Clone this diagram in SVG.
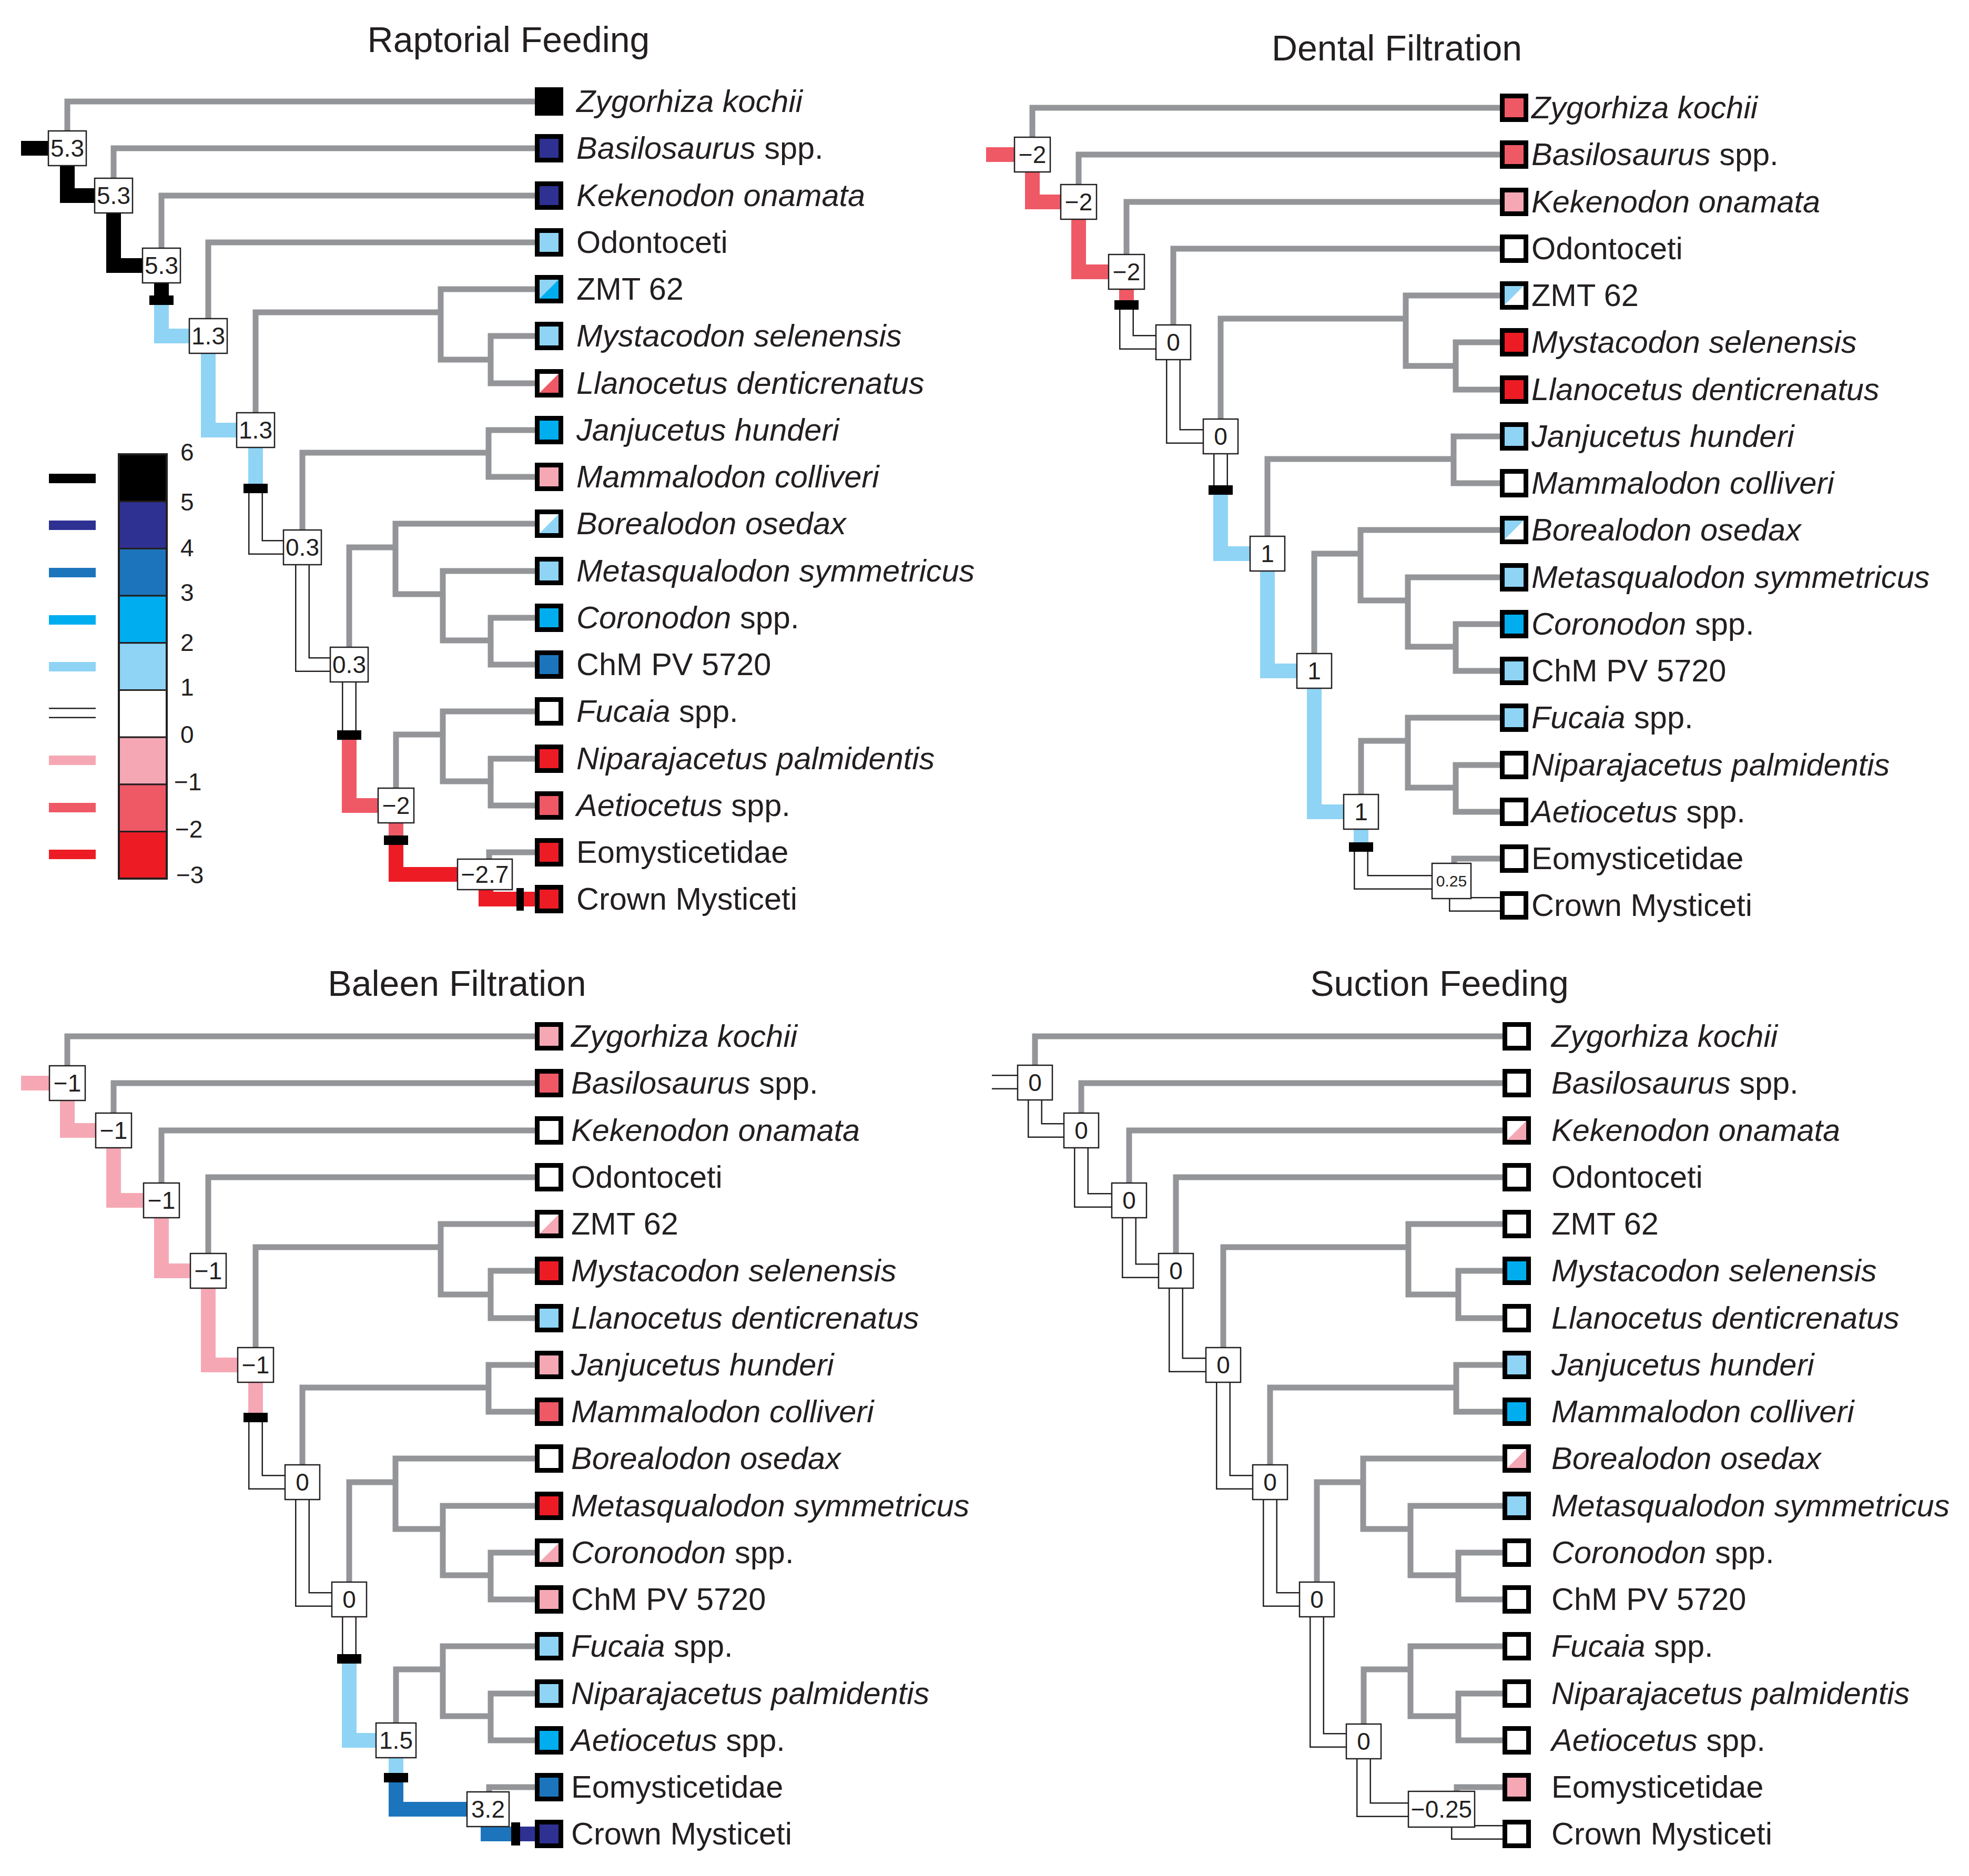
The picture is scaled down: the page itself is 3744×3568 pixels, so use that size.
<svg xmlns="http://www.w3.org/2000/svg" xmlns:xlink="http://www.w3.org/1999/xlink" width="3744" height="3568" viewBox="0 0 3744 3568">
<style>
.br{fill:none;stroke:#939598;stroke-width:11;stroke-linejoin:miter;stroke-linecap:butt}
.st{fill:none;stroke-width:28;stroke-linejoin:miter;stroke-linecap:butt}
.dbo{fill:none;stroke:#231f20;stroke-width:28;stroke-linejoin:miter}
.dbi{fill:none;stroke:#fff;stroke-width:23;stroke-linejoin:miter}
.bar{fill:#000}
.nb{fill:#fff;stroke:#231f20;stroke-width:2.5}
.nt{font-family:"Liberation Sans",Arial,sans-serif;font-size:46px;text-anchor:middle;fill:#231f20}
.tb{fill:none;stroke:#000;stroke-width:9}
.tl{font-family:"Liberation Sans",Arial,sans-serif;font-size:59.5px;fill:#231f20}
.it{font-style:italic}
.ti{font-family:"Liberation Sans",Arial,sans-serif;font-size:68px;text-anchor:middle;fill:#231f20}
.lg{font-family:"Liberation Sans",Arial,sans-serif;font-size:46px;fill:#231f20}
.cell{stroke:#231f20;stroke-width:3}
</style>
<defs>
<g id="grayTree">
<path class="br" d="M128 282V193H1017"/>
<path class="br" d="M216 372V282H1017"/>
<path class="br" d="M307 505V372H1017"/>
<path class="br" d="M396 639V461H1017"/>
<path class="br" d="M486 818V594H838"/>
<path class="br" d="M1017 550H838V684H933"/>
<path class="br" d="M1017 639H933V729H1017"/>
<path class="br" d="M575 1041V861H929"/>
<path class="br" d="M1017 818H929V907H1017"/>
<path class="br" d="M664 1264V1041H752"/>
<path class="br" d="M1017 996H752V1130H842"/>
<path class="br" d="M1017 1086H842V1218H933"/>
<path class="br" d="M1017 1175H933V1264H1017"/>
<path class="br" d="M753 1532V1397H842"/>
<path class="br" d="M1017 1353H842V1486H933"/>
<path class="br" d="M1017 1443H933V1532H1017"/>
<path class="br" d="M930 1663V1621H1017"/>
</g>
</defs>
<rect width="3744" height="3568" fill="#fff"/>

<!-- ============ PANEL 1: Raptorial Feeding ============ -->
<g id="raptorial">
<text class="ti" x="967" y="99">Raptorial Feeding</text>
<g id="rap-connectors">
<use xlink:href="#grayTree" href="#grayTree"/>
<path class="st" stroke="#000" d="M40 282H128V372H216V505H307V571"/>
<path class="st" stroke="#8fd4f5" d="M307 571V639H396V818H486V929"/>
<path class="dbo" d="M486 929V1041H575V1264H664V1398"/>
<path class="dbi" d="M486 929V1041H575V1264H664V1398"/>
<path class="st" stroke="#ef5966" d="M664 1398V1532H753V1598"/>
<path class="st" stroke="#ed1c24" d="M753 1598V1663H924"/>
<path class="st" stroke="#ed1c24" stroke-width="22" d="M924 1663V1710H1017"/>
<rect class="bar" x="284" y="562" width="46" height="18"/>
<rect class="bar" x="463" y="920" width="46" height="18"/>
<rect class="bar" x="641" y="1389" width="46" height="18"/>
<rect class="bar" x="730" y="1589" width="46" height="18"/>
<rect class="bar" x="982" y="1689" width="14" height="43"/>
</g>
<g id="rap-n1"><rect class="nb" x="92" y="249" width="72" height="66"/><text class="nt" x="128" y="298">5.3</text></g>
<g id="rap-n2"><rect class="nb" x="180" y="339" width="72" height="66"/><text class="nt" x="216" y="388">5.3</text></g>
<g id="rap-n3"><rect class="nb" x="271" y="472" width="72" height="66"/><text class="nt" x="307" y="521">5.3</text></g>
<g id="rap-n4"><rect class="nb" x="360" y="606" width="72" height="66"/><text class="nt" x="396" y="655">1.3</text></g>
<g id="rap-n5"><rect class="nb" x="450" y="785" width="72" height="66"/><text class="nt" x="486" y="834">1.3</text></g>
<g id="rap-n6"><rect class="nb" x="539" y="1008" width="72" height="66"/><text class="nt" x="575" y="1057">0.3</text></g>
<g id="rap-n7"><rect class="nb" x="628" y="1231" width="72" height="66"/><text class="nt" x="664" y="1280">0.3</text></g>
<g id="rap-n8"><rect class="nb" x="719" y="1499" width="68" height="66"/><text class="nt" x="753" y="1548">−2</text></g>
<g id="rap-n9"><rect class="nb" x="870" y="1634" width="104" height="58"/><text class="nt" x="922" y="1679">−2.7</text></g>

<g id="rap-t0"><rect x="1021.5" y="170.5" width="45" height="45" fill="#000"/><rect class="tb" x="1021.5" y="170.5" width="45" height="45"/><text class="tl" x="1096" y="213"><tspan class="it">Zygorhiza kochii</tspan></text></g>
<g id="rap-t1"><rect x="1021.5" y="259.5" width="45" height="45" fill="#2e3192"/><rect class="tb" x="1021.5" y="259.5" width="45" height="45"/><text class="tl" x="1096" y="302"><tspan class="it">Basilosaurus</tspan> spp.</text></g>
<g id="rap-t2"><rect x="1021.5" y="349.5" width="45" height="45" fill="#2e3192"/><rect class="tb" x="1021.5" y="349.5" width="45" height="45"/><text class="tl" x="1096" y="392"><tspan class="it">Kekenodon onamata</tspan></text></g>
<g id="rap-t3"><rect x="1021.5" y="438.5" width="45" height="45" fill="#8fd4f5"/><rect class="tb" x="1021.5" y="438.5" width="45" height="45"/><text class="tl" x="1096" y="481">Odontoceti</text></g>
<g id="rap-t4"><rect x="1021.5" y="527.5" width="45" height="45" fill="#8fd4f5"/><polygon points="1021.5,572.5 1066.5,527.5 1066.5,572.5" fill="#00aeef"/><rect class="tb" x="1021.5" y="527.5" width="45" height="45"/><text class="tl" x="1096" y="570">ZMT 62</text></g>
<g id="rap-t5"><rect x="1021.5" y="616.5" width="45" height="45" fill="#8fd4f5"/><rect class="tb" x="1021.5" y="616.5" width="45" height="45"/><text class="tl" x="1096" y="659"><tspan class="it">Mystacodon selenensis</tspan></text></g>
<g id="rap-t6"><rect x="1021.5" y="706.5" width="45" height="45" fill="#fff"/><polygon points="1021.5,751.5 1066.5,706.5 1066.5,751.5" fill="#ef5966"/><rect class="tb" x="1021.5" y="706.5" width="45" height="45"/><text class="tl" x="1096" y="749"><tspan class="it">Llanocetus denticrenatus</tspan></text></g>
<g id="rap-t7"><rect x="1021.5" y="795.5" width="45" height="45" fill="#00aeef"/><rect class="tb" x="1021.5" y="795.5" width="45" height="45"/><text class="tl" x="1096" y="838"><tspan class="it">Janjucetus hunderi</tspan></text></g>
<g id="rap-t8"><rect x="1021.5" y="884.5" width="45" height="45" fill="#f5a8b4"/><rect class="tb" x="1021.5" y="884.5" width="45" height="45"/><text class="tl" x="1096" y="927"><tspan class="it">Mammalodon colliveri</tspan></text></g>
<g id="rap-t9"><rect x="1021.5" y="973.5" width="45" height="45" fill="#fff"/><polygon points="1021.5,1018.5 1066.5,973.5 1066.5,1018.5" fill="#8fd4f5"/><rect class="tb" x="1021.5" y="973.5" width="45" height="45"/><text class="tl" x="1096" y="1016"><tspan class="it">Borealodon osedax</tspan></text></g>
<g id="rap-t10"><rect x="1021.5" y="1063.5" width="45" height="45" fill="#8fd4f5"/><rect class="tb" x="1021.5" y="1063.5" width="45" height="45"/><text class="tl" x="1096" y="1106"><tspan class="it">Metasqualodon symmetricus</tspan></text></g>
<g id="rap-t11"><rect x="1021.5" y="1152.5" width="45" height="45" fill="#00aeef"/><rect class="tb" x="1021.5" y="1152.5" width="45" height="45"/><text class="tl" x="1096" y="1195"><tspan class="it">Coronodon</tspan> spp.</text></g>
<g id="rap-t12"><rect x="1021.5" y="1241.5" width="45" height="45" fill="#1c75bc"/><rect class="tb" x="1021.5" y="1241.5" width="45" height="45"/><text class="tl" x="1096" y="1284">ChM PV 5720</text></g>
<g id="rap-t13"><rect x="1021.5" y="1330.5" width="45" height="45" fill="#fff"/><rect class="tb" x="1021.5" y="1330.5" width="45" height="45"/><text class="tl" x="1096" y="1373"><tspan class="it">Fucaia</tspan> spp.</text></g>
<g id="rap-t14"><rect x="1021.5" y="1420.5" width="45" height="45" fill="#ed1c24"/><rect class="tb" x="1021.5" y="1420.5" width="45" height="45"/><text class="tl" x="1096" y="1463"><tspan class="it">Niparajacetus palmidentis</tspan></text></g>
<g id="rap-t15"><rect x="1021.5" y="1509.5" width="45" height="45" fill="#ef5966"/><rect class="tb" x="1021.5" y="1509.5" width="45" height="45"/><text class="tl" x="1096" y="1552"><tspan class="it">Aetiocetus</tspan> spp.</text></g>
<g id="rap-t16"><rect x="1021.5" y="1598.5" width="45" height="45" fill="#ed1c24"/><rect class="tb" x="1021.5" y="1598.5" width="45" height="45"/><text class="tl" x="1096" y="1641">Eomysticetidae</text></g>
<g id="rap-t17"><rect x="1021.5" y="1687.5" width="45" height="45" fill="#ed1c24"/><rect class="tb" x="1021.5" y="1687.5" width="45" height="45"/><text class="tl" x="1096" y="1730">Crown Mysticeti</text></g>

<g id="legend">
<rect class="cell" x="226" y="864" width="91" height="89.7" fill="#000"/>
<rect class="cell" x="226" y="953.7" width="91" height="89.7" fill="#2e3192"/>
<rect class="cell" x="226" y="1043.4" width="91" height="89.7" fill="#1c75bc"/>
<rect class="cell" x="226" y="1133.1" width="91" height="89.7" fill="#00aeef"/>
<rect class="cell" x="226" y="1222.8" width="91" height="89.7" fill="#8fd4f5"/>
<rect class="cell" x="226" y="1312.5" width="91" height="89.7" fill="#fff"/>
<rect class="cell" x="226" y="1402.2" width="91" height="89.7" fill="#f5a8b4"/>
<rect class="cell" x="226" y="1491.9" width="91" height="89.7" fill="#ef5966"/>
<rect class="cell" x="226" y="1581.6" width="91" height="89.7" fill="#ed1c24"/>
<rect x="226" y="864" width="91" height="807" fill="none" stroke="#231f20" stroke-width="4"/>
<path d="M93 910H182" stroke="#000" stroke-width="18"/>
<path d="M93 999H182" stroke="#2e3192" stroke-width="18"/>
<path d="M93 1089H182" stroke="#1c75bc" stroke-width="18"/>
<path d="M93 1179H182" stroke="#00aeef" stroke-width="18"/>
<path d="M93 1268H182" stroke="#8fd4f5" stroke-width="18"/>
<path d="M93 1356H182" stroke="#231f20" stroke-width="20"/>
<path d="M93 1356H182" stroke="#fff" stroke-width="15"/>
<path d="M93 1446H182" stroke="#f5a8b4" stroke-width="18"/>
<path d="M93 1536H182" stroke="#ef5966" stroke-width="18"/>
<path d="M93 1625H182" stroke="#ed1c24" stroke-width="18"/>
<text class="lg" x="343" y="876">6</text>
<text class="lg" x="343" y="971">5</text>
<text class="lg" x="343" y="1058">4</text>
<text class="lg" x="343" y="1143">3</text>
<text class="lg" x="343" y="1238">2</text>
<text class="lg" x="343" y="1323">1</text>
<text class="lg" x="343" y="1413">0</text>
<text class="lg" x="331" y="1503">−1</text>
<text class="lg" x="333" y="1593">−2</text>
<text class="lg" x="335" y="1680">−3</text>
</g>
</g>

<!-- ============ PANEL 2: Dental Filtration ============ -->
<text class="ti" x="2656" y="115">Dental Filtration</text>
<g id="dental" transform="translate(1835,12)">
<g id="den-connectors">
<use xlink:href="#grayTree" href="#grayTree"/>
<path class="st" stroke="#ef5966" d="M40 282H128V372H216V505H307V568"/>
<path class="dbo" d="M307 568V639H396V818H486V920"/>
<path class="dbi" d="M307 568V639H396V818H486V920"/>
<path class="st" stroke="#8fd4f5" d="M486 920V1041H575V1264H664V1532H753V1599"/>
<path class="dbo" stroke-width="17" d="M753 1599V1666H888"/>
<path class="dbi" stroke-width="12" d="M753 1599V1666H888"/>
<path class="dbo" stroke-width="17" d="M934 1663V1708H1017"/>
<path class="dbi" stroke-width="12" d="M934 1663V1708H1017"/>
<rect class="bar" x="284" y="559" width="46" height="18"/>
<rect class="bar" x="463" y="911" width="46" height="18"/>
<rect class="bar" x="730" y="1590" width="46" height="18"/>
</g>
<g id="den-n1"><rect class="nb" x="94" y="249" width="68" height="66"/><text class="nt" x="128" y="298">−2</text></g>
<g id="den-n2"><rect class="nb" x="182" y="339" width="68" height="66"/><text class="nt" x="216" y="388">−2</text></g>
<g id="den-n3"><rect class="nb" x="273" y="472" width="68" height="66"/><text class="nt" x="307" y="521">−2</text></g>
<g id="den-n4"><rect class="nb" x="363" y="606" width="66" height="66"/><text class="nt" x="396" y="655">0</text></g>
<g id="den-n5"><rect class="nb" x="453" y="785" width="66" height="66"/><text class="nt" x="486" y="834">0</text></g>
<g id="den-n6"><rect class="nb" x="542" y="1008" width="66" height="66"/><text class="nt" x="575" y="1057">1</text></g>
<g id="den-n7"><rect class="nb" x="631" y="1231" width="66" height="66"/><text class="nt" x="664" y="1280">1</text></g>
<g id="den-n8"><rect class="nb" x="720" y="1499" width="66" height="66"/><text class="nt" x="753" y="1548">1</text></g>
<g id="den-n9"><rect class="nb" x="888" y="1630" width="74" height="67"/><text class="nt" x="925" y="1674" style="font-size:30px">0.25</text></g>

<g id="den-t0"><rect x="1021.5" y="170.5" width="45" height="45" fill="#ef5966"/><rect class="tb" x="1021.5" y="170.5" width="45" height="45"/><text class="tl" x="1077" y="213"><tspan class="it">Zygorhiza kochii</tspan></text></g>
<g id="den-t1"><rect x="1021.5" y="259.5" width="45" height="45" fill="#ef5966"/><rect class="tb" x="1021.5" y="259.5" width="45" height="45"/><text class="tl" x="1077" y="302"><tspan class="it">Basilosaurus</tspan> spp.</text></g>
<g id="den-t2"><rect x="1021.5" y="349.5" width="45" height="45" fill="#f5a8b4"/><rect class="tb" x="1021.5" y="349.5" width="45" height="45"/><text class="tl" x="1077" y="392"><tspan class="it">Kekenodon onamata</tspan></text></g>
<g id="den-t3"><rect x="1021.5" y="438.5" width="45" height="45" fill="#fff"/><rect class="tb" x="1021.5" y="438.5" width="45" height="45"/><text class="tl" x="1077" y="481">Odontoceti</text></g>
<g id="den-t4"><rect x="1021.5" y="527.5" width="45" height="45" fill="#8fd4f5"/><polygon points="1021.5,572.5 1066.5,527.5 1066.5,572.5" fill="#fff"/><rect class="tb" x="1021.5" y="527.5" width="45" height="45"/><text class="tl" x="1077" y="570">ZMT 62</text></g>
<g id="den-t5"><rect x="1021.5" y="616.5" width="45" height="45" fill="#ed1c24"/><rect class="tb" x="1021.5" y="616.5" width="45" height="45"/><text class="tl" x="1077" y="659"><tspan class="it">Mystacodon selenensis</tspan></text></g>
<g id="den-t6"><rect x="1021.5" y="706.5" width="45" height="45" fill="#ed1c24"/><rect class="tb" x="1021.5" y="706.5" width="45" height="45"/><text class="tl" x="1077" y="749"><tspan class="it">Llanocetus denticrenatus</tspan></text></g>
<g id="den-t7"><rect x="1021.5" y="795.5" width="45" height="45" fill="#8fd4f5"/><rect class="tb" x="1021.5" y="795.5" width="45" height="45"/><text class="tl" x="1077" y="838"><tspan class="it">Janjucetus hunderi</tspan></text></g>
<g id="den-t8"><rect x="1021.5" y="884.5" width="45" height="45" fill="#fff"/><rect class="tb" x="1021.5" y="884.5" width="45" height="45"/><text class="tl" x="1077" y="927"><tspan class="it">Mammalodon colliveri</tspan></text></g>
<g id="den-t9"><rect x="1021.5" y="973.5" width="45" height="45" fill="#8fd4f5"/><polygon points="1021.5,1018.5 1066.5,973.5 1066.5,1018.5" fill="#fff"/><rect class="tb" x="1021.5" y="973.5" width="45" height="45"/><text class="tl" x="1077" y="1016"><tspan class="it">Borealodon osedax</tspan></text></g>
<g id="den-t10"><rect x="1021.5" y="1063.5" width="45" height="45" fill="#8fd4f5"/><rect class="tb" x="1021.5" y="1063.5" width="45" height="45"/><text class="tl" x="1077" y="1106"><tspan class="it">Metasqualodon symmetricus</tspan></text></g>
<g id="den-t11"><rect x="1021.5" y="1152.5" width="45" height="45" fill="#00aeef"/><rect class="tb" x="1021.5" y="1152.5" width="45" height="45"/><text class="tl" x="1077" y="1195"><tspan class="it">Coronodon</tspan> spp.</text></g>
<g id="den-t12"><rect x="1021.5" y="1241.5" width="45" height="45" fill="#8fd4f5"/><rect class="tb" x="1021.5" y="1241.5" width="45" height="45"/><text class="tl" x="1077" y="1284">ChM PV 5720</text></g>
<g id="den-t13"><rect x="1021.5" y="1330.5" width="45" height="45" fill="#8fd4f5"/><rect class="tb" x="1021.5" y="1330.5" width="45" height="45"/><text class="tl" x="1077" y="1373"><tspan class="it">Fucaia</tspan> spp.</text></g>
<g id="den-t14"><rect x="1021.5" y="1420.5" width="45" height="45" fill="#fff"/><rect class="tb" x="1021.5" y="1420.5" width="45" height="45"/><text class="tl" x="1077" y="1463"><tspan class="it">Niparajacetus palmidentis</tspan></text></g>
<g id="den-t15"><rect x="1021.5" y="1509.5" width="45" height="45" fill="#fff"/><rect class="tb" x="1021.5" y="1509.5" width="45" height="45"/><text class="tl" x="1077" y="1552"><tspan class="it">Aetiocetus</tspan> spp.</text></g>
<g id="den-t16"><rect x="1021.5" y="1598.5" width="45" height="45" fill="#fff"/><rect class="tb" x="1021.5" y="1598.5" width="45" height="45"/><text class="tl" x="1077" y="1641">Eomysticetidae</text></g>
<g id="den-t17"><rect x="1021.5" y="1687.5" width="45" height="45" fill="#fff"/><rect class="tb" x="1021.5" y="1687.5" width="45" height="45"/><text class="tl" x="1077" y="1730">Crown Mysticeti</text></g>
</g>

<!-- ============ PANEL 3: Baleen Filtration ============ -->
<text class="ti" x="869" y="1894">Baleen Filtration</text>
<g id="baleen" transform="translate(0,1778)">
<g id="bal-connectors">
<use xlink:href="#grayTree" href="#grayTree"/>
<path class="st" stroke="#f5a8b4" d="M40 282H128V372H216V505H307V639H396V818H486V918"/>
<path class="dbo" d="M486 918V1041H575V1264H664V1377"/>
<path class="dbi" d="M486 918V1041H575V1264H664V1377"/>
<path class="st" stroke="#8fd4f5" d="M664 1377V1532H753V1603"/>
<path class="st" stroke="#1c75bc" d="M753 1603V1663H928"/>
<path class="st" stroke="#1c75bc" stroke-width="24" d="M928 1663V1710H980"/>
<path class="st" stroke="#2e3192" stroke-width="24" d="M980 1710H1017"/>
<rect class="bar" x="463" y="909" width="46" height="18"/>
<rect class="bar" x="641" y="1368" width="46" height="18"/>
<rect class="bar" x="730" y="1594" width="46" height="18"/>
<rect class="bar" x="972" y="1688" width="17" height="44"/>
</g>
<g id="bal-n1"><rect class="nb" x="94" y="249" width="68" height="66"/><text class="nt" x="128" y="298">−1</text></g>
<g id="bal-n2"><rect class="nb" x="182" y="339" width="68" height="66"/><text class="nt" x="216" y="388">−1</text></g>
<g id="bal-n3"><rect class="nb" x="273" y="472" width="68" height="66"/><text class="nt" x="307" y="521">−1</text></g>
<g id="bal-n4"><rect class="nb" x="362" y="606" width="68" height="66"/><text class="nt" x="396" y="655">−1</text></g>
<g id="bal-n5"><rect class="nb" x="452" y="785" width="68" height="66"/><text class="nt" x="486" y="834">−1</text></g>
<g id="bal-n6"><rect class="nb" x="542" y="1008" width="66" height="66"/><text class="nt" x="575" y="1057">0</text></g>
<g id="bal-n7"><rect class="nb" x="631" y="1231" width="66" height="66"/><text class="nt" x="664" y="1280">0</text></g>
<g id="bal-n8"><rect class="nb" x="715" y="1499" width="76" height="66"/><text class="nt" x="753" y="1548">1.5</text></g>
<g id="bal-n9"><rect class="nb" x="888" y="1630" width="80" height="66"/><text class="nt" x="928" y="1679">3.2</text></g>

<g id="bal-t0"><rect x="1021.5" y="170.5" width="45" height="45" fill="#f5a8b4"/><rect class="tb" x="1021.5" y="170.5" width="45" height="45"/><text class="tl" x="1086" y="213"><tspan class="it">Zygorhiza kochii</tspan></text></g>
<g id="bal-t1"><rect x="1021.5" y="259.5" width="45" height="45" fill="#ef5966"/><rect class="tb" x="1021.5" y="259.5" width="45" height="45"/><text class="tl" x="1086" y="302"><tspan class="it">Basilosaurus</tspan> spp.</text></g>
<g id="bal-t2"><rect x="1021.5" y="349.5" width="45" height="45" fill="#fff"/><rect class="tb" x="1021.5" y="349.5" width="45" height="45"/><text class="tl" x="1086" y="392"><tspan class="it">Kekenodon onamata</tspan></text></g>
<g id="bal-t3"><rect x="1021.5" y="438.5" width="45" height="45" fill="#fff"/><rect class="tb" x="1021.5" y="438.5" width="45" height="45"/><text class="tl" x="1086" y="481">Odontoceti</text></g>
<g id="bal-t4"><rect x="1021.5" y="527.5" width="45" height="45" fill="#fff"/><polygon points="1021.5,572.5 1066.5,527.5 1066.5,572.5" fill="#f5a8b4"/><rect class="tb" x="1021.5" y="527.5" width="45" height="45"/><text class="tl" x="1086" y="570">ZMT 62</text></g>
<g id="bal-t5"><rect x="1021.5" y="616.5" width="45" height="45" fill="#ed1c24"/><rect class="tb" x="1021.5" y="616.5" width="45" height="45"/><text class="tl" x="1086" y="659"><tspan class="it">Mystacodon selenensis</tspan></text></g>
<g id="bal-t6"><rect x="1021.5" y="706.5" width="45" height="45" fill="#8fd4f5"/><rect class="tb" x="1021.5" y="706.5" width="45" height="45"/><text class="tl" x="1086" y="749"><tspan class="it">Llanocetus denticrenatus</tspan></text></g>
<g id="bal-t7"><rect x="1021.5" y="795.5" width="45" height="45" fill="#f5a8b4"/><rect class="tb" x="1021.5" y="795.5" width="45" height="45"/><text class="tl" x="1086" y="838"><tspan class="it">Janjucetus hunderi</tspan></text></g>
<g id="bal-t8"><rect x="1021.5" y="884.5" width="45" height="45" fill="#ef5966"/><rect class="tb" x="1021.5" y="884.5" width="45" height="45"/><text class="tl" x="1086" y="927"><tspan class="it">Mammalodon colliveri</tspan></text></g>
<g id="bal-t9"><rect x="1021.5" y="973.5" width="45" height="45" fill="#fff"/><rect class="tb" x="1021.5" y="973.5" width="45" height="45"/><text class="tl" x="1086" y="1016"><tspan class="it">Borealodon osedax</tspan></text></g>
<g id="bal-t10"><rect x="1021.5" y="1063.5" width="45" height="45" fill="#ed1c24"/><rect class="tb" x="1021.5" y="1063.5" width="45" height="45"/><text class="tl" x="1086" y="1106"><tspan class="it">Metasqualodon symmetricus</tspan></text></g>
<g id="bal-t11"><rect x="1021.5" y="1152.5" width="45" height="45" fill="#fff"/><polygon points="1021.5,1197.5 1066.5,1152.5 1066.5,1197.5" fill="#f5a8b4"/><rect class="tb" x="1021.5" y="1152.5" width="45" height="45"/><text class="tl" x="1086" y="1195"><tspan class="it">Coronodon</tspan> spp.</text></g>
<g id="bal-t12"><rect x="1021.5" y="1241.5" width="45" height="45" fill="#f5a8b4"/><rect class="tb" x="1021.5" y="1241.5" width="45" height="45"/><text class="tl" x="1086" y="1284">ChM PV 5720</text></g>
<g id="bal-t13"><rect x="1021.5" y="1330.5" width="45" height="45" fill="#8fd4f5"/><rect class="tb" x="1021.5" y="1330.5" width="45" height="45"/><text class="tl" x="1086" y="1373"><tspan class="it">Fucaia</tspan> spp.</text></g>
<g id="bal-t14"><rect x="1021.5" y="1420.5" width="45" height="45" fill="#8fd4f5"/><rect class="tb" x="1021.5" y="1420.5" width="45" height="45"/><text class="tl" x="1086" y="1463"><tspan class="it">Niparajacetus palmidentis</tspan></text></g>
<g id="bal-t15"><rect x="1021.5" y="1509.5" width="45" height="45" fill="#00aeef"/><rect class="tb" x="1021.5" y="1509.5" width="45" height="45"/><text class="tl" x="1086" y="1552"><tspan class="it">Aetiocetus</tspan> spp.</text></g>
<g id="bal-t16"><rect x="1021.5" y="1598.5" width="45" height="45" fill="#1c75bc"/><rect class="tb" x="1021.5" y="1598.5" width="45" height="45"/><text class="tl" x="1086" y="1641">Eomysticetidae</text></g>
<g id="bal-t17"><rect x="1021.5" y="1687.5" width="45" height="45" fill="#2e3192"/><rect class="tb" x="1021.5" y="1687.5" width="45" height="45"/><text class="tl" x="1086" y="1730">Crown Mysticeti</text></g>
</g>

<!-- ============ PANEL 4: Suction Feeding ============ -->
<text class="ti" x="2737" y="1894">Suction Feeding</text>
<g id="suction" transform="translate(1840,1778)">
<g id="suc-connectors">
<use xlink:href="#grayTree" href="#grayTree"/>
<path class="dbo" d="M46 280H128V372H216V505H307V639H396V818H486V1041H575V1264H664V1532H753V1664H838"/>
<path class="dbi" d="M46 280H128V372H216V505H307V639H396V818H486V1041H575V1264H664V1532H753V1664H838"/>
<path class="dbo" stroke-width="32" d="M933 1663V1707H1017"/>
<path class="dbi" stroke-width="27" d="M933 1663V1707H1017"/>
</g>
<g id="suc-n1"><rect class="nb" x="95" y="248" width="66" height="66"/><text class="nt" x="128" y="297">0</text></g>
<g id="suc-n2"><rect class="nb" x="183" y="339" width="66" height="66"/><text class="nt" x="216" y="388">0</text></g>
<g id="suc-n3"><rect class="nb" x="274" y="472" width="66" height="66"/><text class="nt" x="307" y="521">0</text></g>
<g id="suc-n4"><rect class="nb" x="363" y="606" width="66" height="66"/><text class="nt" x="396" y="655">0</text></g>
<g id="suc-n5"><rect class="nb" x="453" y="785" width="66" height="66"/><text class="nt" x="486" y="834">0</text></g>
<g id="suc-n6"><rect class="nb" x="542" y="1008" width="66" height="66"/><text class="nt" x="575" y="1057">0</text></g>
<g id="suc-n7"><rect class="nb" x="631" y="1231" width="66" height="66"/><text class="nt" x="664" y="1280">0</text></g>
<g id="suc-n8"><rect class="nb" x="720" y="1501" width="66" height="66"/><text class="nt" x="753" y="1550">0</text></g>
<g id="suc-n9"><rect class="nb" x="838" y="1629" width="126" height="68"/><text class="nt" x="901" y="1679">−0.25</text></g>

<g id="suc-t0"><rect x="1021.5" y="170.5" width="45" height="45" fill="#fff"/><rect class="tb" x="1021.5" y="170.5" width="45" height="45"/><text class="tl" x="1110" y="213"><tspan class="it">Zygorhiza kochii</tspan></text></g>
<g id="suc-t1"><rect x="1021.5" y="259.5" width="45" height="45" fill="#fff"/><rect class="tb" x="1021.5" y="259.5" width="45" height="45"/><text class="tl" x="1110" y="302"><tspan class="it">Basilosaurus</tspan> spp.</text></g>
<g id="suc-t2"><rect x="1021.5" y="349.5" width="45" height="45" fill="#fff"/><polygon points="1021.5,394.5 1066.5,349.5 1066.5,394.5" fill="#f5a8b4"/><rect class="tb" x="1021.5" y="349.5" width="45" height="45"/><text class="tl" x="1110" y="392"><tspan class="it">Kekenodon onamata</tspan></text></g>
<g id="suc-t3"><rect x="1021.5" y="438.5" width="45" height="45" fill="#fff"/><rect class="tb" x="1021.5" y="438.5" width="45" height="45"/><text class="tl" x="1110" y="481">Odontoceti</text></g>
<g id="suc-t4"><rect x="1021.5" y="527.5" width="45" height="45" fill="#fff"/><rect class="tb" x="1021.5" y="527.5" width="45" height="45"/><text class="tl" x="1110" y="570">ZMT 62</text></g>
<g id="suc-t5"><rect x="1021.5" y="616.5" width="45" height="45" fill="#00aeef"/><rect class="tb" x="1021.5" y="616.5" width="45" height="45"/><text class="tl" x="1110" y="659"><tspan class="it">Mystacodon selenensis</tspan></text></g>
<g id="suc-t6"><rect x="1021.5" y="706.5" width="45" height="45" fill="#fff"/><rect class="tb" x="1021.5" y="706.5" width="45" height="45"/><text class="tl" x="1110" y="749"><tspan class="it">Llanocetus denticrenatus</tspan></text></g>
<g id="suc-t7"><rect x="1021.5" y="795.5" width="45" height="45" fill="#8fd4f5"/><rect class="tb" x="1021.5" y="795.5" width="45" height="45"/><text class="tl" x="1110" y="838"><tspan class="it">Janjucetus hunderi</tspan></text></g>
<g id="suc-t8"><rect x="1021.5" y="884.5" width="45" height="45" fill="#00aeef"/><rect class="tb" x="1021.5" y="884.5" width="45" height="45"/><text class="tl" x="1110" y="927"><tspan class="it">Mammalodon colliveri</tspan></text></g>
<g id="suc-t9"><rect x="1021.5" y="973.5" width="45" height="45" fill="#fff"/><polygon points="1021.5,1018.5 1066.5,973.5 1066.5,1018.5" fill="#f5a8b4"/><rect class="tb" x="1021.5" y="973.5" width="45" height="45"/><text class="tl" x="1110" y="1016"><tspan class="it">Borealodon osedax</tspan></text></g>
<g id="suc-t10"><rect x="1021.5" y="1063.5" width="45" height="45" fill="#8fd4f5"/><rect class="tb" x="1021.5" y="1063.5" width="45" height="45"/><text class="tl" x="1110" y="1106"><tspan class="it">Metasqualodon symmetricus</tspan></text></g>
<g id="suc-t11"><rect x="1021.5" y="1152.5" width="45" height="45" fill="#fff"/><rect class="tb" x="1021.5" y="1152.5" width="45" height="45"/><text class="tl" x="1110" y="1195"><tspan class="it">Coronodon</tspan> spp.</text></g>
<g id="suc-t12"><rect x="1021.5" y="1241.5" width="45" height="45" fill="#fff"/><rect class="tb" x="1021.5" y="1241.5" width="45" height="45"/><text class="tl" x="1110" y="1284">ChM PV 5720</text></g>
<g id="suc-t13"><rect x="1021.5" y="1330.5" width="45" height="45" fill="#fff"/><rect class="tb" x="1021.5" y="1330.5" width="45" height="45"/><text class="tl" x="1110" y="1373"><tspan class="it">Fucaia</tspan> spp.</text></g>
<g id="suc-t14"><rect x="1021.5" y="1420.5" width="45" height="45" fill="#fff"/><rect class="tb" x="1021.5" y="1420.5" width="45" height="45"/><text class="tl" x="1110" y="1463"><tspan class="it">Niparajacetus palmidentis</tspan></text></g>
<g id="suc-t15"><rect x="1021.5" y="1509.5" width="45" height="45" fill="#fff"/><rect class="tb" x="1021.5" y="1509.5" width="45" height="45"/><text class="tl" x="1110" y="1552"><tspan class="it">Aetiocetus</tspan> spp.</text></g>
<g id="suc-t16"><rect x="1021.5" y="1598.5" width="45" height="45" fill="#f5a8b4"/><rect class="tb" x="1021.5" y="1598.5" width="45" height="45"/><text class="tl" x="1110" y="1641">Eomysticetidae</text></g>
<g id="suc-t17"><rect x="1021.5" y="1687.5" width="45" height="45" fill="#fff"/><rect class="tb" x="1021.5" y="1687.5" width="45" height="45"/><text class="tl" x="1110" y="1730">Crown Mysticeti</text></g>
</g>
</svg>
